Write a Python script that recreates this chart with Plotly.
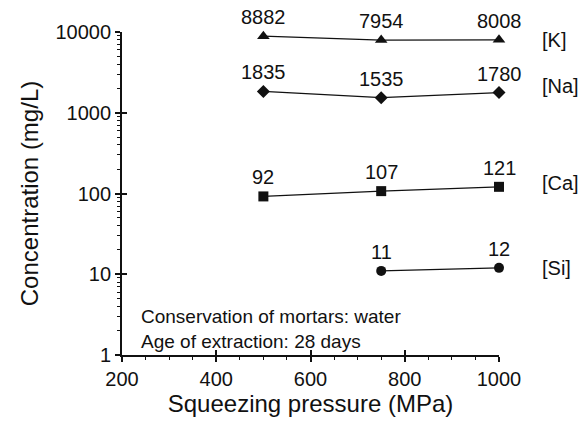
import math
import plotly.graph_objects as go

pressure = [500, 750, 1000]
k_vals = [8882, 7954, 8008]
na_vals = [1835, 1535, 1780]
ca_vals = [92, 107, 121]
si_pressure = [750, 1000]
si_vals = [11, 12]

series = [
    ("[K]", pressure, k_vals, "triangle-up", 11, 0),
    ("[Na]", pressure, na_vals, "diamond", 10, 7),
    ("[Ca]", pressure, ca_vals, "square", 10, 4),
    ("[Si]", si_pressure, si_vals, "circle", 10, 0),
]

FONT = "Liberation Sans, Arial, Helvetica, sans-serif"
INK = "#111"

fig = go.Figure()
for name, xs, ys, sym, sz, lshift in series:
    fig.add_trace(go.Scatter(
        x=xs, y=ys, mode="lines+markers",
        line=dict(color=INK, width=1.3),
        marker=dict(symbol=sym, size=sz, color=INK),
        cliponaxis=False, showlegend=False, name=name,
    ))
    # annotations on a log axis take log10 coordinates
    for xv, yv in zip(xs, ys):
        fig.add_annotation(x=xv, y=math.log10(yv), xref="x", yref="y", yshift=19,
                           text=str(yv), showarrow=False,
                           font=dict(family=FONT, size=20, color=INK))
    fig.add_annotation(x=1, xref="paper", xanchor="left", xshift=41,
                       y=math.log10(ys[-1]), yref="y", yshift=lshift, text=name,
                       showarrow=False, font=dict(family=FONT, size=20, color=INK))

# invisible helper trace so the overlay axes (for crossing major ticks) are drawn
fig.add_trace(go.Scatter(x=[None], y=[None], xaxis="x2", yaxis="y2",
                         showlegend=False, hoverinfo="skip"))

fig.add_annotation(x=0.045, xref="paper", y=0.158, yref="paper", xanchor="left",
                   yanchor="top", align="left", showarrow=False,
                   text="Conservation of mortars: water<br>Age of extraction: 28 days",
                   font=dict(family=FONT, size=19, color=INK))

xticks = [200, 400, 600, 800, 1000]
yticks = [1, 10, 100, 1000, 10000]

fig.update_layout(
    width=578, height=425,
    margin=dict(l=122, r=79, t=32, b=65),
    paper_bgcolor="white", plot_bgcolor="white",
    font=dict(family=FONT, color=INK),
    xaxis=dict(range=[200, 1000], tickvals=xticks,
               ticks="outside", ticklen=5, tickwidth=1.5, tickcolor=INK,
               showline=True, linecolor=INK, linewidth=1.8, showgrid=False,
               zeroline=False, tickfont=dict(size=20),
               minor=dict(dtick=50, ticks="outside", ticklen=3, tickwidth=1.2,
                          tickcolor=INK, showgrid=False),
               title=dict(text="Squeezing pressure (MPa)", font=dict(size=24), standoff=6)),
    yaxis=dict(type="log", range=[0, 4], tickvals=yticks,
               ticktext=[str(v) for v in yticks],
               ticks="outside", ticklen=5, tickwidth=1.5, tickcolor=INK,
               showline=True, linecolor=INK, linewidth=1.8, showgrid=False,
               zeroline=False, tickfont=dict(size=20),
               minor=dict(tickvals=[m * 10 ** e for e in range(4) for m in range(2, 10)],
                          ticks="outside", ticklen=3, tickwidth=1.2,
                          tickcolor=INK, showgrid=False),
               title=dict(text="Concentration (mg/L)", font=dict(size=24), standoff=10)),
    xaxis2=dict(range=[200, 1000], overlaying="x", anchor="y2", side="bottom",
                tickvals=xticks, ticks="inside", ticklen=5, tickwidth=1.5,
                tickcolor=INK, showticklabels=False, showline=False,
                showgrid=False, zeroline=False),
    yaxis2=dict(type="log", range=[0, 4], overlaying="y", anchor="x2", side="left",
                tickvals=yticks, ticks="inside", ticklen=5, tickwidth=1.5,
                tickcolor=INK, showticklabels=False, showline=False,
                showgrid=False, zeroline=False),
)

fig.write_html("out.html")
